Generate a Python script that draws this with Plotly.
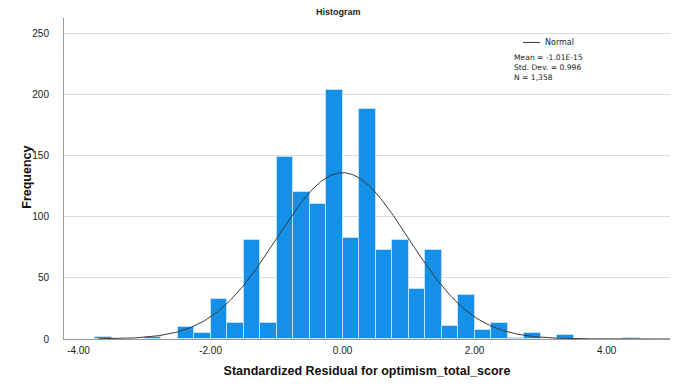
import numpy as np
import plotly.graph_objects as go

# Histogram data (bin left edges, width 0.25)
bin_left = [-3.75, -3.0, -2.5, -2.25, -2.0, -1.75, -1.5, -1.25, -1.0, -0.75, -0.5, -0.25,
            0.0, 0.25, 0.5, 0.75, 1.0, 1.25, 1.5, 1.75, 2.0, 2.25, 2.5, 2.75, 3.25, 4.25]
counts = [2, 2, 10, 5, 33, 13, 81, 13, 149, 120, 110, 204,
          83, 188, 73, 81, 41, 73, 11, 36, 7, 13, 1, 5, 3, 1]
bin_width = 0.25

stat_mean = -1.01e-15
stat_sd = 0.996
stat_n = 1358
stat_lines = ["Mean = -1.01E-15", "Std. Dev. = 0.996", "N = 1,358"]

x_tickvals = [-4, -2, 0, 2, 4]
x_ticktext = ["-4.00", "-2.00", "0.00", "2.00", "4.00"]
y_tickvals = [0, 50, 100, 150, 200, 250]

centers = [b + bin_width / 2 for b in bin_left]

xs = np.linspace(-3.7, 4.96, 400)
ys = stat_n * bin_width / (stat_sd * np.sqrt(2 * np.pi)) * np.exp(-0.5 * ((xs - stat_mean) / stat_sd) ** 2)

fig = go.Figure()
fig.add_trace(go.Bar(
    x=centers, y=counts, width=bin_width,
    marker=dict(color="#1590E8", line=dict(color="#BFE0F8", width=1)),
    showlegend=False, hoverinfo="x+y",
))
fig.add_trace(go.Scatter(
    x=xs, y=ys, mode="lines", line=dict(color="#3a3a3a", width=1),
    showlegend=False, hoverinfo="skip",
))

L, R, T, B = 64, 670, 18, 339.5
PW, PH = R - L, B - T


def px(xp):
    return (xp - L) / PW


def py(yp):
    return 1 - (yp - T) / PH


font = "Liberation Sans, Arial, sans-serif"
small = "DejaVu Sans, sans-serif"
annotations = [
    dict(text="<b>Histogram</b>", xref="paper", yref="paper", x=px(338), y=py(12),
         xanchor="center", yanchor="middle", showarrow=False, font=dict(size=9, color="#222")),
    dict(text="<b>Frequency</b>", xref="paper", yref="paper", x=px(27), y=py(178),
         xanchor="center", yanchor="middle", textangle=-90, showarrow=False,
         font=dict(family=font, size=12.5, color="#111")),
    dict(text="Normal", xref="paper", yref="paper", x=px(543), y=py(42.5),
         xanchor="left", yanchor="middle", showarrow=False,
         font=dict(family=small, size=8, color="#222")),
    dict(text="<br>".join(stat_lines), xref="paper", yref="paper", x=px(513), y=py(68),
         xanchor="left", yanchor="middle", align="left", showarrow=False, borderpad=0,
         font=dict(family=small, size=7.6, color="#222")),
]

fig.update_layout(
    width=675, height=391,
    margin=dict(l=L, r=675 - R, t=T, b=391 - B),
    plot_bgcolor="white", paper_bgcolor="white",
    bargap=0,
    font=dict(family=font, size=10, color="#222"),
    xaxis=dict(
        range=[-4.22, 4.96], tickvals=x_tickvals, ticktext=x_ticktext,
        showgrid=False, zeroline=False, showline=True, linecolor="#9a9a9a", linewidth=1,
        ticks="", ticklabelstandoff=2,
        tickfont=dict(size=10, color="#222"),
        title=dict(text="<b>Standardized Residual for optimism_total_score</b>",
                   font=dict(size=12.5, color="#111"), standoff=11),
    ),
    yaxis=dict(
        range=[0, 262.5], tickvals=y_tickvals,
        showgrid=True, gridcolor="#dcdcdc", gridwidth=1,
        zeroline=False, showline=True, linecolor="#9a9a9a", linewidth=1,
        ticks="", ticklabelstandoff=12,
        tickfont=dict(size=10, color="#222"),
    ),
    annotations=annotations,
    shapes=[
        dict(type="line", xref="paper", yref="paper",
             x0=px(523), x1=px(540), y0=py(42.5), y1=py(42.5),
             line=dict(color="#3a3a3a", width=1)),
    ],
)

fig.write_html("out.html")
